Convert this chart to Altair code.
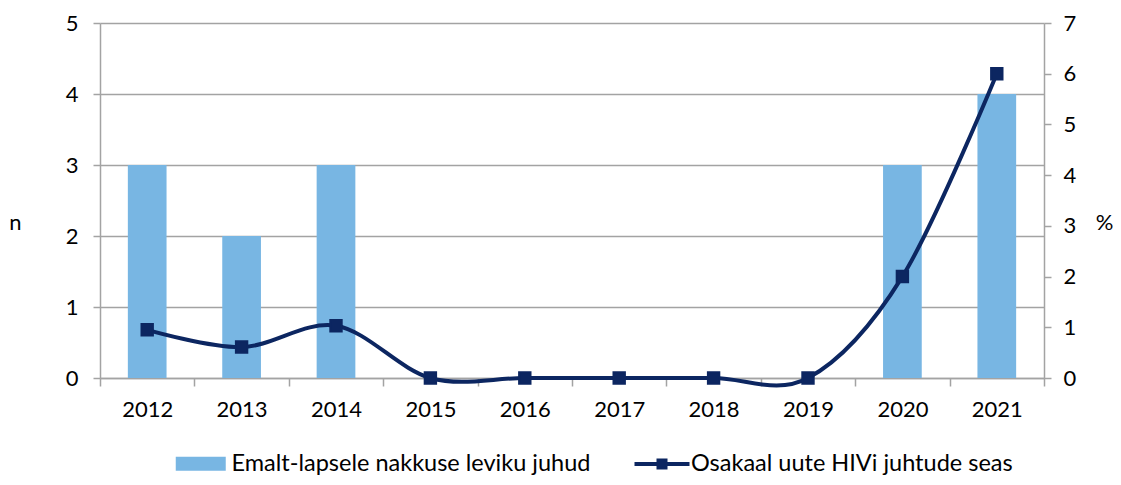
import altair as alt
import pandas as pd

years = ["2012", "2013", "2014", "2015", "2016", "2017", "2018", "2019", "2020", "2021"]
cases = [3, 2, 3, 0, 0, 0, 0, 0, 3, 4]
share = [0.95, 0.61, 1.03, 0, 0, 0, 0, 0, 2.0, 6.0]
bar_label = "Emalt-lapsele nakkuse leviku juhud"
line_label = "Osakaal uute HIVi juhtude seas"
left_ticks = [0, 1, 2, 3, 4, 5]
right_ticks = [0, 1, 2, 3, 4, 5, 6, 7]

df = pd.DataFrame({"year": years, "cases": cases, "share": share,
                   "bar_s": [bar_label] * len(years), "line_s": [line_label] * len(years)})

FONT = "Lato"
FS = 22
LFS = 23.5
GRID = "#a3a3a3"
BAR = "#78b6e3"
NAVY = "#0c2661"

x = alt.X("year:N", sort=years,
          scale=alt.Scale(paddingInner=0, paddingOuter=0),
          axis=alt.Axis(title=None, labelAngle=0, tickBand="extent", domainColor=GRID,
                        tickColor=GRID, tickSize=8, labelPadding=13, grid=False,
                        domainWidth=1.5, tickWidth=1.5, labelFont=FONT, labelFontSize=FS,
                        labelColor="black"))

bars = alt.Chart(df).mark_bar(width=alt.RelativeBandSize(0.41), color=BAR).encode(
    x=x,
    y=alt.Y("cases:Q", scale=alt.Scale(domain=[0, 5], nice=False),
            axis=alt.Axis(title="n", titleAngle=0, titleX=-85, titleY=199,
                          titleAlign="center", titleBaseline="middle",
                          titleFont=FONT, titleFontSize=FS, titleFontWeight="normal",
                          values=left_ticks, grid=True, gridColor=GRID, gridWidth=1.5,
                          domainColor=GRID, domainWidth=1.5, tickColor=GRID, tickWidth=1.5,
                          tickSize=7, labelPadding=15, labelFont=FONT, labelFontSize=FS,
                          labelColor="black")),
    fill=alt.Fill("bar_s:N", scale=alt.Scale(range=[BAR]),
                  legend=alt.Legend(title=None, orient="none", legendX=89, legendY=429,
                                    symbolType="M-2.5,-0.7H2.5V0.7H-2.5Z", symbolSize=400,
                                    symbolStrokeWidth=0, labelOffset=19, labelFont=FONT,
                                    labelFontSize=LFS, labelColor="black", labelLimit=600)),
)

line = alt.Chart(df).mark_line(
    interpolate="cardinal", strokeWidth=4,
    point=alt.OverlayMarkDef(shape="square", size=130, filled=True, color=NAVY, opacity=1),
).encode(
    x=x,
    y=alt.Y("share:Q", scale=alt.Scale(domain=[0, 7], nice=False),
            axis=alt.Axis(orient="right", title="%", titleAngle=0, titleX=60, titleY=199,
                          titleAlign="center", titleBaseline="middle",
                          titleFont=FONT, titleFontSize=FS, titleFontWeight="normal",
                          values=right_ticks, grid=False,
                          domainColor=GRID, domainWidth=1.5, tickColor=GRID, tickWidth=1.5,
                          tickSize=7, labelPadding=12, labelFont=FONT, labelFontSize=FS,
                          labelColor="black")),
    stroke=alt.Stroke("line_s:N", scale=alt.Scale(range=[NAVY]),
                      legend=alt.Legend(title=None, orient="none", legendX=550, legendY=429,
                                        symbolType="M-2.75,0H2.75M-0.35,-0.35H0.35V0.35H-0.35Z",
                                        symbolSize=400, symbolStrokeWidth=4,
                                        symbolFillColor=NAVY, labelOffset=17, labelFont=FONT,
                                        labelFontSize=LFS, labelColor="black", labelLimit=600)),
)

chart = alt.layer(bars, line).resolve_scale(
    y="independent", fill="independent", stroke="independent"
).properties(
    width=944, height=355,
    autosize=alt.AutoSizeParams(type="none"),
    padding={"left": 92, "top": 15, "right": 69, "bottom": 99},
).configure_view(stroke=None)

chart.save("out.html", embed_options={"renderer": "svg", "actions": False})
